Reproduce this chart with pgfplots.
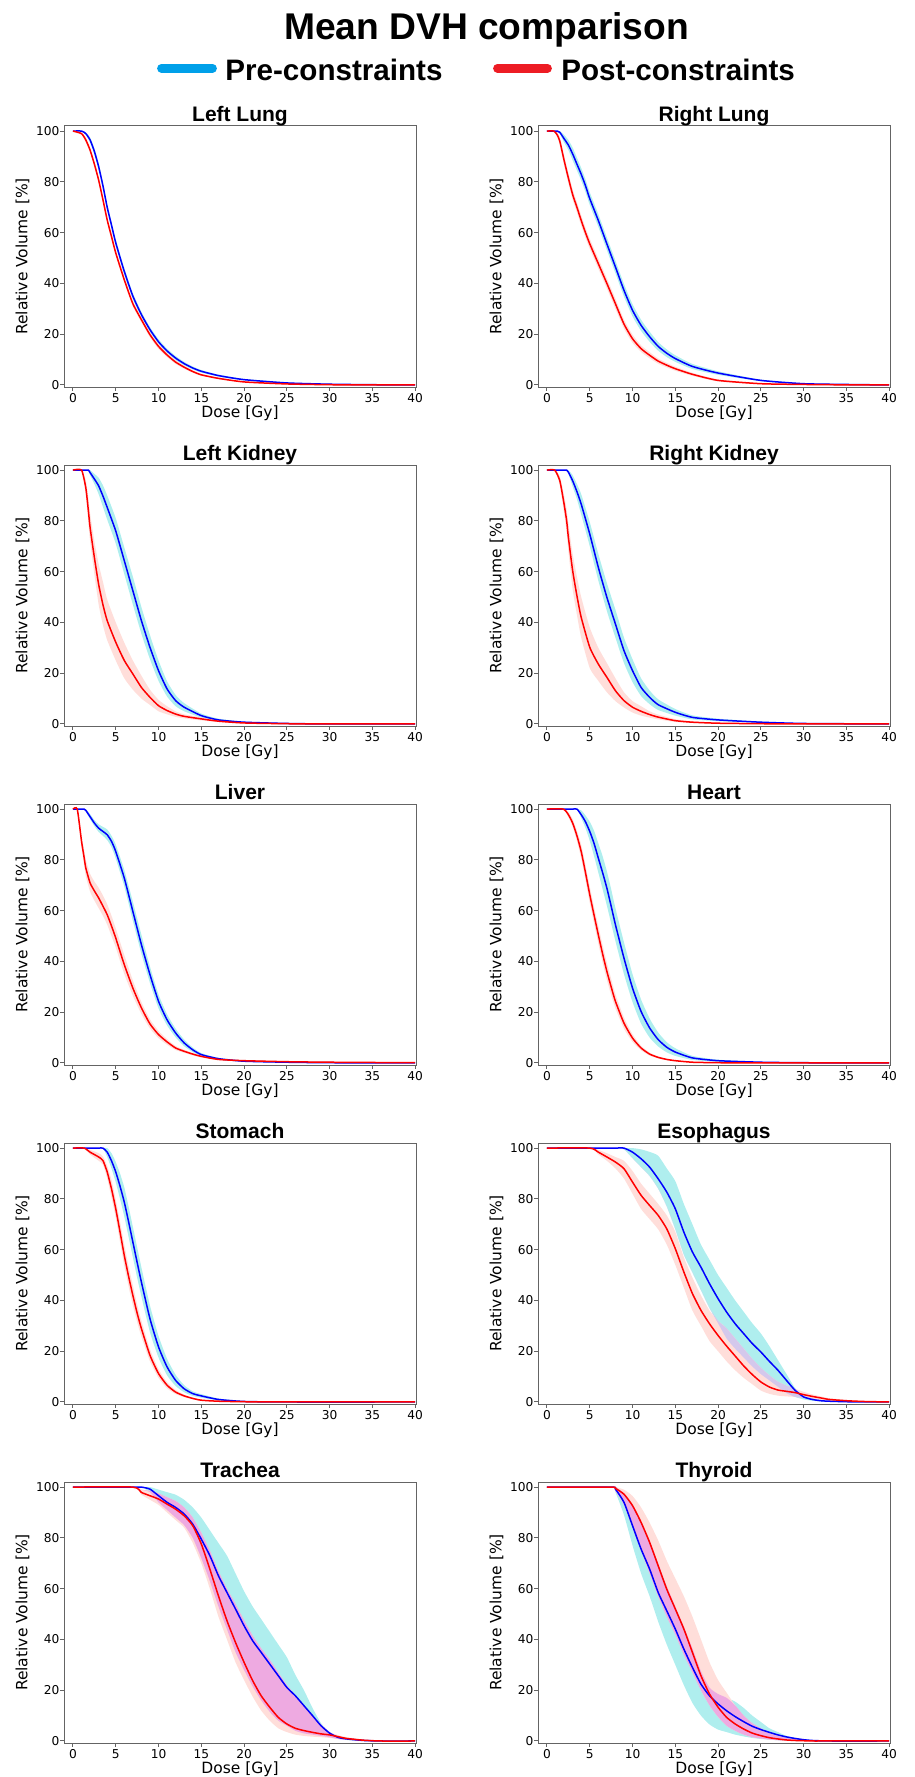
\documentclass[border=0pt]{standalone}
\usepackage{pgfplots}
\pgfplotsset{compat=1.18}
\usepackage{pgfplotstable}
\usepgfplotslibrary{fillbetween}
\usepackage{fontspec}
\setmainfont{DejaVu Sans}
\newfontfamily\arialfont{Liberation Sans}

\definecolor{preband}{RGB}{175,238,238}
\definecolor{postband}{RGB}{255,222,218}
\definecolor{overlapband}{RGB}{238,170,225}
\definecolor{overlaplav}{RGB}{212,200,236}
\definecolor{preline}{RGB}{0,0,255}
\definecolor{postline}{RGB}{255,0,0}
\definecolor{prelegend}{RGB}{0,160,233}
\definecolor{postlegend}{RGB}{237,28,36}
\definecolor{spine}{RGB}{100,100,100}

% columns: dose, pre mean, pre low, pre high, post mean, post low, post high
\pgfplotstableread{
x b bl bu r rl ru
0 100 100 100 100 100 100
1 100 100 100 99 98.5 99.5
1.5 99 98.5 99.5 96.5 95.5 97.5
2 96.5 95.5 97.5 92.5 91.5 93.5
2.5 92 90.8 93.2 87 86 88
3 86 84.7 87.3 80.7 79.7 81.7
3.5 78.5 77.2 79.8 73 72 74
4 70 68.7 71.3 65 64 66
4.5 63 61.7 64.3 58.5 57.5 59.5
5 56 54.7 57.3 52 51 53
6 44.7 43.4 46 41.4 40.4 42.4
7 35 33.8 36.2 32 31 33
8 27.7 26.6 28.8 25.7 24.7 26.7
9 21.8 20.8 22.8 19.8 18.8 20.8
10 17 16 18 15.2 14.2 16.2
11 13.4 12.5 14.3 11.8 11 12.6
12 10.6 9.8 11.4 9 8.3 9.7
13 8.4 7.7 9.1 7 6.4 7.6
14 6.7 6.1 7.3 5.3 4.8 5.8
15 5.4 4.9 5.9 4 3.6 4.4
17 3.7 3.3 4.1 2.6 2.3 2.9
20 2.1 1.8 2.4 1.2 1 1.4
25 0.8 0.6 1 0.4 0.3 0.5
30 0.3 0.2 0.4 0.1 0.05 0.15
35 0.1 0.05 0.15 0 0 0
40 0 0 0 0 0 0
}\tLL

\pgfplotstableread{
x b bl bu r rl ru
0 100 100 100 100 100 100
0.8 100 100 100 100 100 100
1.2 100 100 100 98.5 97.5 99.5
1.5 99.5 99 100 96 94.5 97.5
2 97 95.5 98.5 88.5 86.5 90.5
2.5 94.5 92.5 96.5 81.5 79.5 83.5
3 91 88.5 93.5 75 73 77
3.5 87 84.5 89.5 70 68 72
4 83 80.5 85.5 64.8 62.8 66.8
4.5 78.5 76 81 60 58 62
5 73.4 70.9 75.9 55.6 53.6 57.6
6 64.8 62.3 67.3 47.8 45.8 49.8
7 55.6 53.1 58.1 40 38 42
8 46.5 44 49 32 30 34
9 37.3 34.8 39.8 24 22.2 25.8
10 29.4 27 31.8 18.2 16.6 19.8
11 23.5 21.3 25.7 14.3 13 15.6
12 19 17 21 11.7 10.5 12.9
13 15.2 13.5 16.9 9.4 8.4 10.4
14 12.5 11 14 7.8 6.9 8.7
15 10.4 9.1 11.7 6.4 5.6 7.2
17 7.3 6.3 8.3 4.2 3.6 4.8
20 4.7 4 5.4 1.8 1.4 2.2
25 1.8 1.5 2.1 0.5 0.3 0.7
30 0.5 0.4 0.6 0.2 0.1 0.3
35 0.2 0.1 0.3 0.05 0 0.1
40 0 0 0 0 0 0
}\tRL

\pgfplotstableread{
x b bl bu r rl ru
0 100 100 100 100 100 100
1 100 100 100 100 100 100
1.5 100 100 100 93 90 96
1.8 100 100 100 84 79 89
2 99 98 100 77.4 72 83
2.5 96.5 94.5 98.5 65.6 59 72
3 93.8 90.5 97 55 47 63
3.5 89.8 85.5 94 47 39 56
4 85.3 80.5 90 40.7 33 49
5 76 71 81 32.2 25 40
6 64.3 59 69.5 25 18 32
7 52.5 47 58 19.7 13.5 25
8 40.7 35.5 46 14.4 10 19
9 30.2 25.5 35 10.5 7.5 13.5
10 21 17 25 7.2 5 9.5
11 13.8 10.8 16.8 5.3 3.8 7
12 9.2 7 11.4 3.9 2.8 5
13 6.6 5 8.2 3 2.2 3.8
15 3.3 2.5 4.1 2 1.4 2.6
17 1.6 1.1 2.1 1.1 0.8 1.4
20 0.7 0.5 0.9 0.4 0.2 0.6
25 0.2 0.1 0.3 0.1 0 0.2
30 0 0 0 0 0 0
40 0 0 0 0 0 0
}\tLK

\pgfplotstableread{
x b bl bu r rl ru
0 100 100 100 100 100 100
0.9 100 100 100 100 100 100
1.5 100 100 100 95.8 94 97.5
2 100 100 100 86.6 83 90
2.3 100 100 100 80 75.5 84.5
2.5 99.2 98.5 100 73.5 68 79
3 95.8 93.5 98 60.4 53 67
3.5 91.5 88.5 94.5 50.5 43 58
4 86.6 82.5 90.5 42 34 50
5 74.8 70 79.5 30.2 22 38
6 61.7 56.5 67 23.6 17 30
7 49.9 44.5 55.5 18.4 12.5 24
8 39.4 34 45 13.1 9 18
9 28.9 24 34 9.2 6.5 12.5
10 21 16.5 25.5 6.6 4.5 9
11 14.4 11 18 5 3.3 7
12 10.5 7.8 13.2 3.7 2.5 5
13 7.6 5.5 9.7 2.7 1.8 3.7
15 4.6 3.3 5.9 1.3 0.8 1.9
17 2.6 1.8 3.4 0.7 0.4 1
20 1.6 1.1 2.1 0.3 0.1 0.5
25 0.7 0.5 0.9 0.1 0 0.2
30 0.2 0.1 0.3 0 0 0
40 0 0 0 0 0 0
}\tRK

\pgfplotstableread{
x b bl bu r rl ru
0 100 100 100 100 100 100
0.5 100 100 100 100 100 100
1 100 100 100 87.3 85 89.5
1.3 100 100 100 81 78 84
1.5 99.5 99 100 76.8 73.5 80
2 97 96 98 70.9 67.5 74.5
2.5 94.5 93.3 95.7 67.8 64 71.5
3 92.5 91 94 65 61 69
3.5 91.2 89.5 93 61.8 58 66
4 89.9 87.8 92 58.4 54.5 62.5
4.5 87.3 85 89.5 54 50 58
5 83.3 80.5 86 49.2 45.5 53
6 72.8 69.5 76 38.7 35 42.5
7 59.7 56 63.5 29.5 26.5 32.5
8 46.6 43 50.5 21.7 19.3 24
9 34.8 31.5 38 15.4 13.6 17.2
10 24.3 21.5 27 11.2 9.8 12.6
11 17 14.8 19.2 8.3 7.2 9.4
12 11.8 10.1 13.5 5.9 5.1 6.7
13 7.9 6.6 9.2 4.6 4 5.2
14 5.2 4.3 6.1 3.5 3 4
15 3.3 2.7 3.9 2.6 2.2 3
17 1.7 1.4 2 1.4 1.1 1.7
20 0.7 0.5 0.9 0.9 0.7 1.1
25 0.3 0.2 0.4 0.5 0.4 0.6
30 0.1 0 0.2 0.3 0.2 0.4
40 0 0 0 0.1 0 0.2
}\tLV

\pgfplotstableread{
x b bl bu r rl ru
0 100 100 100 100 100 100
1.9 100 100 100 100 100 100
2.5 100 100 100 97.8 96.8 98.8
3 100 100 100 94.5 93 96
3.5 100 100 100 89.5 87.5 91.5
4 97.8 96.5 99.5 83.3 80.5 86
4.5 95 92.5 97.5 75 72 78
5 91.2 87.5 95 66.3 63 69.5
5.5 86.5 81.5 91.5 58.3 55 61.5
6 80.7 75 86.5 50.5 47 54
6.5 75 68.5 81.5 43 39.5 46.5
7 68.9 62 75.5 36.1 32.7 39.5
7.5 61.8 55 68.5 30 26.8 33.2
8 54.5 48 61 24.3 21.5 27.1
9 41.3 35 47.5 15.7 13.5 17.9
10 29.5 24 35 9.8 8.3 11.3
11 20.3 15.5 25 5.9 5 6.8
12 13.8 10 17.5 3.5 2.9 4.1
13 9.2 6.5 12 2.2 1.8 2.6
14 6.2 4.2 8.2 1.4 1.1 1.7
15 4.3 2.8 5.8 0.9 0.7 1.1
17 2 1.2 2.8 0.3 0.2 0.4
20 0.9 0.5 1.3 0.1 0 0.2
25 0.3 0.2 0.4 0 0 0
30 0.1 0 0.2 0 0 0
40 0 0 0 0 0 0
}\tHT

\pgfplotstableread{
x b bl bu r rl ru
0 100 100 100 100 100 100
1.3 100 100 100 100 100 100
2 100 100 100 98.4 97.5 99.3
3 100 100 100 96.5 95 98
3.5 100 100 100 95.1 93.5 96.7
4 98.4 96.5 100 90.6 88 93
4.5 95 92 98 84 80.5 87.5
5 90.6 86.5 94.5 76.1 72.5 79.7
5.5 85 80 90 67 63 71
6 78.7 73 84.5 57.7 53.5 62
6.5 71 65 77 49.5 45.5 53.5
7 63 57 69 42 38 46
7.5 55 49 61 35 31.5 38.5
8 47.2 41.5 53 28.9 25.7 32
9 32.8 27.5 38 18.4 16 20.8
10 21.7 17.5 26 11.2 9.5 12.9
11 13.8 10.5 17 6.6 5.4 7.8
12 8.5 6.3 10.7 3.9 3.1 4.7
13 5.2 3.8 6.6 2.4 1.9 2.9
14 3.3 2.4 4.2 1.4 1.1 1.7
15 2.4 1.7 3.1 0.7 0.5 0.9
17 1 0.6 1.4 0.3 0.2 0.4
20 0.2 0.1 0.3 0.1 0 0.2
25 0 0 0 0 0 0
40 0 0 0 0 0 0
}\tST

% ol/ou: where the two bands overlap
\pgfplotstableread{
x b bl bu r rl ru ol ou
0 100 100 100 100 100 100 100 100
5 100 100 100 100 100 100 100 100
6 100 100 100 98.4 97.5 99.3 100 100
7 100 100 100 96.5 95 98 100 100
8 100 100 100 94.5 92 96.5 100 100
9 100 99.5 100 91.9 88 95 99.5 99.5
10 98.4 96 100 86.6 82 91 96 96
11 95.8 92.5 99.5 81.4 76 86 92.5 92.5
12 92.5 89 98.5 77.4 72 82 89 89
13 87.9 84 97 73.5 68 78 84 84
14 82.7 77 92 68.2 62 73.5 77 77
15 76.1 68 87 60.4 54 67 68 68
16 66.9 58 78 51.2 45 57 58 58
17 59.1 51 70 42.7 36 49 51 51
18 53.1 44 62 36.1 30 42 44 44
19 46.6 37 56 30.8 24 36 37 37
20 40.7 31 50 26.2 20 32 31 32
21 35.4 25 45 22 16 29 25 29
22 30.8 21 40 18.1 12.5 25 21 25
23 26.9 17.5 35.5 14.2 9.5 21 17.5 21
24 23 14 31 10.8 7 17 14 17
25 19.7 11 27 7.9 4.5 13.5 11 13.5
26 16 8.5 22 5.9 3.2 10.5 8.5 10.5
27 12.5 6 16.5 4.7 2.5 8 6 8
28 8.5 3.5 11 4.2 2.2 6.5 3.5 6.5
29 4.6 2 5.5 3.7 2 5.2 2 5.2
30 2 1 2.5 2.9 1.6 4 1.6 2.5
31 1 0.5 1.5 2.2 1 3 1 1.5
32 0.5 0.2 0.8 1.6 0.7 2.2 0.7 0.8
33 0.3 0.1 0.5 1 0.5 1.5 0.5 0.5
35 0.1 0 0.2 0.5 0.2 0.8 0.2 0.2
37 0 0 0 0.2 0 0.3 0 0
40 0 0 0 0 0 0 0 0
}\tES

\pgfplotstableread{
x b bl bu r rl ru ol ou
0 100 100 100 100 100 100 100 100
7 100 100 100 100 100 100 100 100
8 100 100 100 97.9 97 99 99 99
9 99.2 98 100 96.6 95 98.5 98 98.5
10 96.6 94 99 95.3 93 97.5 94 97.5
11 94 91 98 93.3 90 96 91 96
12 92 88 97 91.3 87 94.5 88 94.5
13 89.4 85 95 88.7 84 92 85 92
14 85.4 80 92 84.8 78 88 80 88
15 79.5 72 88 77.6 70 82 72 82
16 73 63 83 67.7 60 75 63 75
17 65.1 53 78 57.2 49 67 53 67
18 58.5 44 73 47.4 40 60 44 60
19 52 35 66 38.8 31 54 35 54
20 45.4 28 59 31 24 47.5 28 47.5
21 39.5 21.5 53 23.8 17.5 41.5 21.5 41.5
22 34.9 16 48 17.8 12 36.5 16 36.5
23 30.3 11.5 43 13.3 8 32 11.5 32
24 25.7 8 38 9.3 5 27 8 27
25 21.1 6 33 6.7 3.5 22 6 22
26 17.8 4 26 5 2.5 18 4 18
27 13.9 3 20 4.1 2 14 3 14
28 10 2.5 13 3.4 1.7 10 2.5 10
29 6 2 7 2.8 1.5 6.5 2 6.5
30 3.1 1.5 3.5 2.4 1.2 3.5 1.5 3.5
31 1.4 0.8 1.8 1.7 0.8 2.3 0.8 1.8
32 0.8 0.4 1 1 0.5 1.5 0.5 1
34 0.2 0 0.3 0.3 0.1 0.5 0.1 0.3
36 0 0 0 0 0 0 0 0
40 0 0 0 0 0 0 0 0
}\tTR

\pgfplotstableread{
x b bl bu r rl ru ol ou
0 100 100 100 100 100 100 100 100
7.5 100 100 100 100 100 100 100 100
8 99.2 98 100 99.5 98.5 100 98.5 100
9 94 89 97.5 97.2 93 99 93 97.5
10 84.8 77 93 92.7 84 96.5 84 93
11 75.6 66 86.5 86.1 75 92 75 86.5
12 67.7 57 79 78.2 66 86 66 79
13 58.5 47 70 69 57 79 57 70
14 51.3 38 61 59.8 49 71 49 61
15 44.1 30 53 52 42 64 42 53
16 36.2 22 45 44.1 34 57 34 45
17 29 15 36.5 34.9 27 49 27 36.5
18 22.4 10 27.5 25.7 20 40 20 27.5
19 17.8 6.5 21 18.5 14 31 14 21
20 14.6 4.5 18.5 13.3 9.5 24 9.5 18.5
21 11.9 3.5 17 9.3 6 19 6 17
22 9.6 2.5 15.5 6.7 4 14 4 14
23 7.6 1.8 13 4.7 2.5 10 2.5 10
24 5.8 1.2 10 3.1 1.5 7 1.5 7
25 4.5 0.8 7.5 2.1 1 5 1 5
26 3.4 0.5 5 1.3 0.6 3 0.6 3
27 2.4 0.3 3.5 0.8 0.3 2 0.3 2
28 1.6 0.2 2 0.4 0.1 1.2 0.2 1.2
29 1 0.1 1.2 0.2 0 0.7 0.1 0.7
30 0.5 0 0.6 0.1 0 0.4 0 0.4
31 0.2 0 0.3 0 0 0.1 0 0.1
33 0 0 0 0 0 0 0 0
40 0 0 0 0 0 0 0 0
}\tTH

\pgfplotsset{
  dvh/.style={
    scale only axis, width=176pt, height=130.5pt,
    xmin=-1.05, xmax=40.1, ymin=-0.8, ymax=102,
    xtick={0,5,...,40}, ytick={0,20,...,100},
    xtick pos=bottom, ytick pos=left,
    tick align=outside, major tick length=1.8pt,
    axis line style={spine, line width=0.5pt},
    tick style={spine, line width=0.5pt},
    tick label style={font=\fontsize{6.1}{7}\selectfont},
    xticklabel style={yshift=2pt},
    yticklabel style={xshift=3pt},
    /pgf/number format/assume math mode=true,
    xlabel={Dose [Gy]}, ylabel={Relative Volume [\%]},
    label style={font=\fontsize{7.75}{9}\selectfont},
    xlabel style={at={(axis description cs:0.5,-0.1)}, anchor=center},
    ylabel style={at={(axis description cs:-0.118,0.5)}, anchor=center},
    title style={font=\arialfont\bfseries\fontsize{10.5}{12}\selectfont,
      at={(axis description cs:0.5,1)}, anchor=base, yshift=-3.5pt},
    no markers,
  },
  curve/.style={smooth, tension=0.35},
}

\newcommand{\overlapfill}[2]{%
  \addplot[curve, draw=none, name path=ou] table[x=x,y=ou]{#1};
  \addplot[curve, draw=none, name path=ol] table[x=x,y=ol]{#1};
  \addplot[fill=#2, draw=none] fill between[of=ou and ol];
}

\newcommand{\dvhpanel}[4]{%
  \begin{axis}[dvh, at={#3}, anchor=north west, title={#1}]
    \addplot[curve, draw=none, name path=bu] table[x=x,y=bu]{#2};
    \addplot[curve, draw=none, name path=bl] table[x=x,y=bl]{#2};
    \addplot[curve, draw=none, name path=ru] table[x=x,y=ru]{#2};
    \addplot[curve, draw=none, name path=rl] table[x=x,y=rl]{#2};
    \addplot[fill=preband, draw=none] fill between[of=bu and bl];
    \addplot[fill=postband, draw=none] fill between[of=ru and rl];
    #4
    \addplot[curve, preline, line width=0.75pt] table[x=x,y=b]{#2};
    \addplot[curve, postline, line width=0.75pt] table[x=x,y=r]{#2};
  \end{axis}%
}

\begin{document}
\begin{tikzpicture}
  \node[anchor=base, font=\arialfont\bfseries\fontsize{18.6}{22}\selectfont]
    at (243.3pt,-19.65pt) {Mean DVH comparison};
  \draw[prelegend, line width=4.3pt, line cap=round] (80.7pt,-34.15pt) -- (106.3pt,-34.15pt);
  \node[anchor=base west, inner sep=0pt, font=\arialfont\bfseries\fontsize{14.8}{18}\selectfont]
    at (112.5pt,-40.5pt) {Pre-constraints};
  \draw[postlegend, line width=4.3pt, line cap=round] (248.7pt,-34.15pt) -- (273.8pt,-34.15pt);
  \node[anchor=base west, inner sep=0pt, font=\arialfont\bfseries\fontsize{14.8}{18}\selectfont]
    at (280.5pt,-40.5pt) {Post-constraints};

  \dvhpanel{Left Lung}{\tLL}{(32pt,-63pt)}{}
  \dvhpanel{Right Lung}{\tRL}{(269pt,-63pt)}{}
  \dvhpanel{Left Kidney}{\tLK}{(32pt,-232.5pt)}{}
  \dvhpanel{Right Kidney}{\tRK}{(269pt,-232.5pt)}{}
  \dvhpanel{Liver}{\tLV}{(32pt,-402pt)}{}
  \dvhpanel{Heart}{\tHT}{(269pt,-402pt)}{}
  \dvhpanel{Stomach}{\tST}{(32pt,-571.5pt)}{}
  \dvhpanel{Esophagus}{\tES}{(269pt,-571.5pt)}{\overlapfill{\tES}{overlaplav}}
  \dvhpanel{Trachea}{\tTR}{(32pt,-741pt)}{\overlapfill{\tTR}{overlapband}}
  \dvhpanel{Thyroid}{\tTH}{(269pt,-741pt)}{\overlapfill{\tTH}{overlapband}}

  \pgfresetboundingbox
  \path[use as bounding box] (0,0) rectangle (457.5pt,-888.5pt);
\end{tikzpicture}
\end{document}
